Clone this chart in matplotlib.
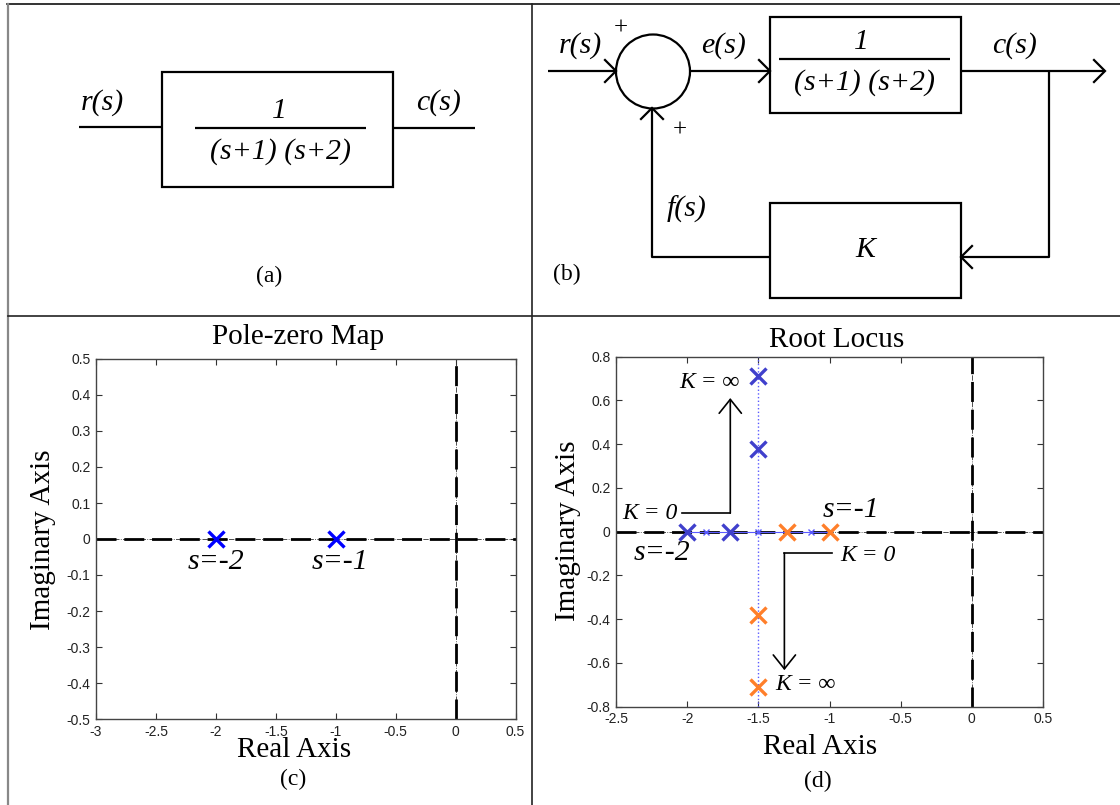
import numpy as np
import matplotlib.pyplot as plt
from matplotlib.patches import Rectangle, Circle

plt.rcParams['axes.unicode_minus'] = False

W, H = 1120, 805
SERIF = 'Liberation Serif'
SANS = 'Liberation Sans'

# open-loop poles of 1/((s+1)(s+2))
pz_poles = [-2, -1]
pz_labels = ['s=-2', 's=-1']
pz_xticks = [-3, -2.5, -2, -1.5, -1, -0.5, 0, 0.5]
pz_yticks = [-0.5, -0.4, -0.3, -0.2, -0.1, 0, 0.1, 0.2, 0.3, 0.4, 0.5]

# closed-loop poles for increasing K (two branches)
rl_blue_re = [-2.0, -1.7, -1.5, -1.5]
rl_blue_im = [0.0, 0.0, 0.38, 0.71]
rl_orange_re = [-1.3, -1.0, -1.5, -1.5]
rl_orange_im = [0.0, 0.0, -0.38, -0.71]
rl_step_re = [-1.87, -1.5, -1.13]
rl_step_im = [0.0, 0.0, 0.0]
rl_breakaway = -1.5
rl_xticks = [-2.5, -2, -1.5, -1, -0.5, 0, 0.5]
rl_yticks = [-0.8, -0.6, -0.4, -0.2, 0, 0.2, 0.4, 0.6, 0.8]

LW = 1.6


def box_to_fig(left, top, right, bottom):
    return [left / W, (H - bottom) / H, (right - left) / W, (bottom - top) / H]


def chevron(x, y, direction, size=11):
    if direction == 'right':
        pts = [(x - size, y - size), (x, y), (x - size, y + size)]
    elif direction == 'left':
        pts = [(x + size, y - size), (x, y), (x + size, y + size)]
    else:  # up
        pts = [(x - size, y + size), (x, y), (x + size, y + size)]
    xs, ys = zip(*pts)
    bg.plot(xs, ys, color='k', lw=LW, solid_joinstyle='miter')


def line(xs, ys):
    bg.plot(xs, ys, color='k', lw=LW, solid_capstyle='butt')


def itext(x, y, s, size=21.5, **kw):
    bg.text(x, y, s, fontsize=size, family=SERIF, style='italic',
            ha='center', va='center', **kw)


fig = plt.figure(figsize=(W / 100, H / 100), dpi=100)
bg = fig.add_axes([0, 0, 1, 1])
bg.set_xlim(0, W)
bg.set_ylim(H, 0)
bg.axis('off')

# table frame
bg.plot([7, W], [4.5, 4.5], color='#111111', lw=1.2)
bg.plot([8, 8], [4, H], color='#888888', lw=1.6)
bg.plot([531.5, 531.5], [4, H], color='#222222', lw=1.2)
bg.plot([8, W], [316, 316], color='#222222', lw=1.2)

# (a) open loop
bg.add_patch(Rectangle((162, 72), 231, 115, fill=False, lw=LW, ec='k'))
line([79, 162], [127, 127])
line([393, 475], [128, 128])
itext(279, 111, '1')
line([195, 366], [128, 128])
itext(280, 152, '(s+1) (s+2)')
itext(102, 103, 'r(s)')
itext(439, 103, 'c(s)')
bg.text(269, 276, '(a)', fontsize=17, family=SERIF, ha='center', va='center')

# (b) positive feedback loop
line([548, 616], [71, 71])
chevron(616, 71, 'right')
bg.add_patch(Circle((653, 71.5), 37, fill=False, lw=LW, ec='k'))
bg.text(621, 29, '+', fontsize=18, family=SERIF, ha='center', va='center')
bg.text(680, 131, '+', fontsize=18, family=SERIF, ha='center', va='center')
itext(580, 46, 'r(s)')
itext(724, 46, 'e(s)')
line([690, 770], [71, 71])
chevron(770, 71, 'right')
bg.add_patch(Rectangle((770, 17), 191, 96, fill=False, lw=LW, ec='k'))
itext(861, 42, '1')
line([779, 950], [59, 59])
itext(864, 83, '(s+1) (s+2)')
itext(1015, 46, 'c(s)')
line([961, 1105], [71, 71])
chevron(1105, 71, 'right')
line([1049, 1049, 961], [71, 257, 257])
chevron(961, 257, 'left')
bg.add_patch(Rectangle((770, 203), 191, 95, fill=False, lw=LW, ec='k'))
itext(865, 250, 'K')
line([770, 652, 652], [257, 257, 108])
chevron(652, 108, 'up')
itext(687, 209, 'f(s)')
bg.text(567, 274, '(b)', fontsize=17, family=SERIF, ha='center', va='center')

bg.text(293, 779, '(c)', fontsize=17, family=SERIF, ha='center', va='center')
bg.text(818, 781, '(d)', fontsize=17, family=SERIF, ha='center', va='center')


def style_axes(ax, xticks, yticks):
    ax.set_xticks(xticks)
    ax.set_yticks(yticks)
    ax.set_xticklabels(['%g' % v for v in xticks], family=SANS)
    ax.set_yticklabels(['%g' % v for v in yticks], family=SANS)
    ax.tick_params(direction='in', top=True, right=True, length=4, width=0.8,
                   labelsize=10, labelcolor='#222222', color='#333333', pad=4)
    for sp in ax.spines.values():
        sp.set_linewidth(1.0)
        sp.set_color('#444444')


def zero_lines(ax):
    for f in (ax.axhline, ax.axvline):
        f(0, color='#333333', lw=0.6, ls='-.', zorder=1)
        f(0, color='k', lw=2.0, dashes=(7.2, 2.8), zorder=2)


# (c) pole-zero map
box_c = (96, 359, 515.5, 719)
axc = fig.add_axes(box_to_fig(*box_c))
axc.set_xlim(-3, 0.5)
axc.set_ylim(-0.5, 0.5)
style_axes(axc, pz_xticks, pz_yticks)
zero_lines(axc)
axc.plot(pz_poles, [0] * len(pz_poles), 'x', color='#0000ff', ms=11, mew=2.4, zorder=4)
for p, lab in zip(pz_poles, pz_labels):
    axc.text(p + (0.04 if p == -1 else 0), -0.064, lab, fontsize=21.5, family=SERIF,
             style='italic', ha='center', va='center')
axc.set_title('Pole-zero Map', fontsize=21, family=SERIF, pad=11, x=0.4815)
axc.set_xlabel('Real Axis', fontsize=21, family=SERIF, va='center')
axc.xaxis.set_label_coords((294 - 96) / 419.5, (719 - 750) / 360)
axc.set_ylabel('Imaginary Axis', fontsize=21, family=SERIF, va='center')
axc.yaxis.set_label_coords((43 - 96) / 419.5, (719 - 540) / 360)

# (d) root locus
box_d = (616, 356.7, 1043, 706.7)
axd = fig.add_axes(box_to_fig(*box_d))
axd.set_xlim(-2.5, 0.5)
axd.set_ylim(-0.8, 0.8)
style_axes(axd, rl_xticks, rl_yticks)
zero_lines(axd)
axd.axvline(rl_breakaway, color='#5a5aff', lw=1.0, ls=':', zorder=3)
axd.plot([min(rl_blue_re), max(rl_orange_re)], [0, 0], color='#5a5aff', lw=0.8, zorder=3)
axd.plot(rl_step_re, rl_step_im, 'x', color='#5a5aff', ms=4, mew=1, zorder=3)
axd.plot(rl_blue_re, rl_blue_im, 'x', color='#4040cc', ms=11, mew=2.4, zorder=4)
axd.plot(rl_orange_re, rl_orange_im, 'x', color='#ff7f2a', ms=11, mew=2.4, zorder=4)

kfont = dict(fontsize=17, family=SERIF, style='italic', va='center')
axd.text(-1.84, 0.68, 'K = \u221e', ha='center', **kfont)
axd.text(-2.26, 0.085, 'K = 0', ha='center', **kfont)
axd.text(-0.73, -0.107, 'K = 0', ha='center', **kfont)
axd.text(-1.169, -0.70, 'K = \u221e', ha='center', **kfont)
axd.text(-0.85, 0.10, 's=-1', fontsize=21.5, family=SERIF, style='italic', ha='center', va='center')
axd.text(-2.18, -0.097, 's=-2', fontsize=21.5, family=SERIF, style='italic', ha='center', va='center')

arrow_kw = dict(arrowstyle='->,head_length=0.5,head_width=0.4', lw=1.2, color='k',
                shrinkA=0, shrinkB=0, mutation_scale=20)
axd.plot([-2.035, -1.697], [0.085, 0.085], color='k', lw=1.2)
axd.annotate('', xy=(-1.697, 0.611), xytext=(-1.697, 0.085), arrowprops=arrow_kw)
axd.plot([-0.979, -1.317], [-0.098, -0.098], color='k', lw=1.2)
axd.annotate('', xy=(-1.317, -0.633), xytext=(-1.317, -0.098), arrowprops=arrow_kw)

axd.set_title('Root Locus', fontsize=21, family=SERIF, pad=7, x=(837 - 616) / 427)
axd.set_xlabel('Real Axis', fontsize=21, family=SERIF, va='center')
axd.xaxis.set_label_coords((820 - 616) / 427, (706.7 - 747) / 350)
axd.set_ylabel('Imaginary Axis', fontsize=21, family=SERIF, va='center')
axd.yaxis.set_label_coords((568 - 616) / 427, (706.7 - 531) / 350)

fig.savefig('out.png', dpi=100)
